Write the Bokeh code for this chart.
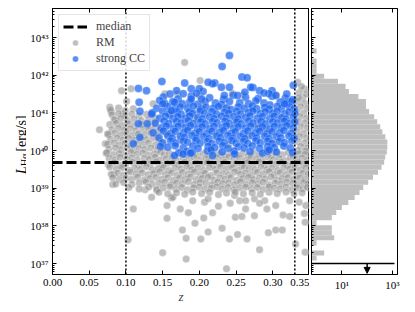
import numpy as np
from bokeh.plotting import figure
from bokeh.layouts import row
from bokeh.models import (Range1d, FixedTicker, CustomJSTickFormatter, NumeralTickFormatter,
                          LinearAxis, LogAxis, Span, Label, Legend, LegendItem, Arrow, NormalHead)
from bokeh.embed import file_html
from bokeh.resources import INLINE

# ---------------- data (z, log10 L_Halpha) ----------------
z_ticks = [0.0, 0.05, 0.10, 0.15, 0.20, 0.25, 0.30, 0.35]
logL_ticks = [37, 38, 39, 40, 41, 42, 43]
count_ticks = [10, 1000]

median_logL = 39.68
z_cuts = [0.10, 0.33]

rm_outliers = [
    (0.082, 39.10), (0.110, 38.45), (0.126, 38.96), (0.135, 38.76), (0.156, 38.54), (0.156, 38.20), (0.162, 38.74),
    (0.103, 37.63), (0.150, 37.29), (0.177, 37.89), (0.182, 37.67), (0.182, 37.12), (0.174, 38.45), (0.185, 38.35),
    (0.194, 38.07), (0.202, 37.65), (0.206, 38.21), (0.212, 37.84), (0.218, 38.35), (0.226, 38.52), (0.231, 37.94),
    (0.241, 37.65), (0.237, 36.86), (0.242, 38.60), (0.249, 38.23), (0.252, 37.77), (0.258, 38.25), (0.265, 37.65),
    (0.263, 38.45), (0.275, 38.27), (0.282, 37.37), (0.292, 38.45), (0.294, 37.82), (0.304, 37.89), (0.313, 37.89),
    (0.314, 38.29), (0.323, 38.25), (0.331, 37.52), (0.343, 38.33), (0.344, 38.10), (0.344, 37.30), (0.304, 38.54),
    (0.083, 39.36), (0.064, 40.55), (0.164, 38.76), (0.191, 38.67), (0.207, 38.63), (0.212, 38.72), (0.248, 38.81),
    (0.255, 38.67), (0.275, 38.72), (0.289, 38.67), (0.323, 38.67), (0.336, 38.63), (0.345, 38.54), (0.142, 38.94),
    (0.263, 38.67), (0.282, 38.60),
    (0.180, 42.34), (0.201, 41.86), (0.094, 41.59), (0.107, 41.64), (0.153, 41.51), (0.078, 41.15), (0.101, 41.31),
    (0.137, 41.24), (0.096, 40.97), (0.080, 41.02), (0.086, 40.81), (0.075, 40.44), (0.072, 40.18), (0.073, 39.93),
    (0.189, 41.02), (0.334, 41.81), (0.343, 41.64), (0.341, 41.41),
]

rm_left = [
    (0.079, 41.08), (0.090, 41.13), (0.099, 41.06), (0.110, 41.11),
    (0.081, 40.95), (0.090, 40.98), (0.099, 40.93), (0.108, 40.97), (0.118, 40.92), (0.128, 40.96),
    (0.084, 40.82), (0.093, 40.85), (0.102, 40.80), (0.111, 40.84), (0.121, 40.79), (0.131, 40.83), (0.140, 40.86),
    (0.078, 40.69), (0.087, 40.72), (0.095, 40.67), (0.104, 40.71), (0.112, 40.66), (0.121, 40.70), (0.130, 40.65), (0.139, 40.71),
    (0.081, 40.56), (0.090, 40.59), (0.098, 40.54), (0.106, 40.58), (0.114, 40.53), (0.123, 40.57), (0.131, 40.55), (0.139, 40.59), (0.146, 40.54),
    (0.076, 40.43), (0.085, 40.46), (0.093, 40.41), (0.101, 40.45), (0.109, 40.40), (0.117, 40.44), (0.126, 40.42), (0.134, 40.46), (0.142, 40.41),
    (0.079, 40.30), (0.088, 40.33), (0.096, 40.28), (0.104, 40.32), (0.112, 40.27), (0.120, 40.31), (0.128, 40.29), (0.137, 40.33), (0.145, 40.28),
    (0.075, 40.17), (0.084, 40.20), (0.091, 40.15), (0.099, 40.19), (0.107, 40.14), (0.115, 40.18), (0.123, 40.16), (0.131, 40.20), (0.140, 40.15), (0.148, 40.19),
    (0.077, 40.04), (0.086, 40.07), (0.094, 40.02), (0.102, 40.06), (0.110, 40.01), (0.118, 40.05), (0.126, 40.03), (0.134, 40.07), (0.143, 40.02), (0.150, 40.06),
]

rm_row_a_z = [0.074, 0.083, 0.091, 0.099, 0.107, 0.115, 0.123, 0.131, 0.139, 0.147, 0.152, 0.159, 0.167, 0.174, 0.182, 0.190, 0.197, 0.205,
              0.213, 0.220, 0.228, 0.236, 0.244, 0.251, 0.259, 0.267, 0.274, 0.282, 0.290, 0.298, 0.305, 0.313, 0.321, 0.328, 0.336, 0.344]
rm_row_a_L = [39.94, 39.89, 39.92, 39.87, 39.95, 39.90, 39.93, 39.88, 39.91, 39.96, 39.89, 39.93, 39.87, 39.94, 39.90, 39.95, 39.88, 39.92,
              39.86, 39.93, 39.91, 39.88, 39.95, 39.89, 39.92, 39.87, 39.94, 39.90, 39.96, 39.88, 39.93, 39.89, 39.95, 39.87, 39.92, 39.90]
rm_row_b_z = [0.077, 0.085, 0.092, 0.101, 0.108, 0.116, 0.125, 0.132, 0.140, 0.147, 0.155, 0.163, 0.170, 0.178, 0.186, 0.193, 0.201, 0.209,
              0.216, 0.224, 0.232, 0.240, 0.247, 0.255, 0.263, 0.270, 0.278, 0.286, 0.294, 0.301, 0.309, 0.317, 0.324, 0.332, 0.340, 0.347]
rm_row_b_L = [39.80, 39.75, 39.82, 39.77, 39.81, 39.74, 39.79, 39.76, 39.83, 39.75, 39.78, 39.81, 39.73, 39.80, 39.77, 39.82, 39.75, 39.79,
              39.74, 39.81, 39.76, 39.83, 39.77, 39.80, 39.74, 39.81, 39.78, 39.75, 39.82, 39.76, 39.79, 39.73, 39.81, 39.77, 39.80, 39.75]
rm_row_c_z = [0.076, 0.084, 0.093, 0.100, 0.109, 0.117, 0.124, 0.133, 0.141, 0.149, 0.157, 0.164, 0.172, 0.180, 0.188, 0.196, 0.204, 0.211,
              0.219, 0.227, 0.235, 0.243, 0.250, 0.258, 0.266, 0.274, 0.281, 0.289, 0.297, 0.305, 0.312, 0.320, 0.327, 0.335, 0.342, 0.348]
rm_row_c_L = [39.63, 39.68, 39.61, 39.66, 39.69, 39.62, 39.67, 39.64, 39.70, 39.61, 39.66, 39.68, 39.63, 39.69, 39.60, 39.67, 39.64, 39.68,
              39.62, 39.65, 39.69, 39.63, 39.66, 39.61, 39.68, 39.64, 39.70, 39.62, 39.67, 39.63, 39.69, 39.61, 39.65, 39.68, 39.64, 39.67]
rm_row_d_z = [0.078, 0.087, 0.095, 0.104, 0.112, 0.120, 0.128, 0.136, 0.144, 0.151, 0.159, 0.167, 0.175, 0.183, 0.190, 0.198, 0.206, 0.214,
              0.222, 0.229, 0.237, 0.245, 0.253, 0.261, 0.268, 0.276, 0.284, 0.292, 0.299, 0.307, 0.315, 0.323, 0.330, 0.338, 0.345]
rm_row_d_L = [39.56, 39.51, 39.55, 39.48, 39.53, 39.50, 39.57, 39.49, 39.52, 39.55, 39.47, 39.54, 39.51, 39.56, 39.49, 39.53, 39.48, 39.55,
              39.50, 39.57, 39.51, 39.54, 39.48, 39.55, 39.52, 39.49, 39.56, 39.50, 39.53, 39.47, 39.55, 39.51, 39.54, 39.49, 39.54]
rm_row_e_z = [0.080, 0.089, 0.097, 0.106, 0.114, 0.122, 0.130, 0.138, 0.146, 0.154, 0.162, 0.170, 0.177, 0.185, 0.193, 0.201, 0.208, 0.216,
              0.224, 0.232, 0.240, 0.248, 0.256, 0.263, 0.271, 0.279, 0.287, 0.295, 0.302, 0.310, 0.318, 0.326, 0.333, 0.341, 0.348]
rm_row_e_L = [39.37, 39.40, 39.35, 39.43, 39.38, 39.41, 39.36, 39.39, 39.44, 39.37, 39.41, 39.35, 39.42, 39.38, 39.43, 39.36, 39.40, 39.34,
              39.41, 39.39, 39.36, 39.43, 39.37, 39.40, 39.35, 39.42, 39.38, 39.44, 39.36, 39.41, 39.37, 39.43, 39.35, 39.40, 39.38]
rm_row_f_z = [0.082, 0.091, 0.100, 0.108, 0.116, 0.125, 0.133, 0.141, 0.149, 0.157, 0.165, 0.173, 0.181, 0.188, 0.196, 0.204, 0.212, 0.220,
              0.228, 0.235, 0.243, 0.251, 0.259, 0.267, 0.274, 0.282, 0.290, 0.298, 0.306, 0.313, 0.321, 0.329, 0.337, 0.344]
rm_row_f_L = [39.28, 39.23, 39.27, 39.24, 39.30, 39.22, 39.26, 39.29, 39.24, 39.28, 39.21, 39.27, 39.25, 39.30, 39.23, 39.26, 39.29, 39.22,
              39.27, 39.24, 39.28, 39.21, 39.26, 39.29, 39.23, 39.27, 39.25, 39.30, 39.22, 39.26, 39.28, 39.24, 39.27, 39.23]
rm_row_g_z = [0.086, 0.097, 0.108, 0.118, 0.127, 0.136, 0.145, 0.153, 0.161, 0.169, 0.177, 0.185, 0.193, 0.201, 0.209, 0.217, 0.225,
              0.232, 0.240, 0.248, 0.256, 0.264, 0.272, 0.280, 0.287, 0.295, 0.303, 0.311, 0.319, 0.327, 0.334, 0.342, 0.348]
rm_row_g_L = [39.11, 39.15, 39.10, 39.14, 39.17, 39.11, 39.13, 39.16, 39.09, 39.14, 39.12, 39.17, 39.10, 39.15, 39.13, 39.09, 39.16,
              39.12, 39.14, 39.10, 39.17, 39.11, 39.15, 39.12, 39.16, 39.09, 39.14, 39.11, 39.16, 39.13, 39.10, 39.15, 39.12]
rm_row_h_z = [0.104, 0.118, 0.131, 0.142, 0.151, 0.160, 0.168, 0.176, 0.184, 0.192, 0.200, 0.208, 0.216, 0.224, 0.231,
              0.239, 0.247, 0.255, 0.263, 0.271, 0.279, 0.287, 0.295, 0.302, 0.310, 0.318, 0.326, 0.334, 0.341, 0.347]
rm_row_h_L = [39.02, 38.98, 39.03, 38.97, 39.01, 39.04, 38.98, 39.02, 38.96, 39.01, 39.03, 38.97, 39.00, 39.04, 38.98,
              39.02, 38.96, 39.01, 39.03, 38.99, 39.02, 38.97, 39.04, 39.00, 38.98, 39.03, 38.96, 39.01, 38.99, 39.02]
rm_row_i_z = [0.145, 0.157, 0.169, 0.180, 0.191, 0.203, 0.214, 0.226, 0.237, 0.249, 0.260, 0.272, 0.283, 0.295, 0.306, 0.318, 0.329, 0.340]
rm_row_i_L = [38.89, 38.85, 38.88, 38.84, 38.90, 38.86, 38.89, 38.83, 38.87, 38.90, 38.85, 38.88, 38.84, 38.89, 38.86, 38.90, 38.85, 38.88]

rm_right = [
    (0.336, 41.54), (0.346, 41.50), (0.334, 41.30), (0.343, 41.26), (0.338, 41.16), (0.347, 41.12), (0.333, 41.03),
    (0.342, 40.99), (0.337, 40.90), (0.346, 40.86), (0.334, 40.77), (0.343, 40.73), (0.338, 40.63), (0.347, 40.60),
    (0.333, 40.50), (0.342, 40.46), (0.337, 40.37), (0.346, 40.33), (0.334, 40.24), (0.343, 40.20), (0.338, 40.11),
    (0.347, 40.07), (0.334, 40.00), (0.344, 39.99), (0.339, 41.70), (0.335, 41.40),
]

rm_under = [
    (0.160, 40.95), (0.185, 40.60), (0.205, 41.20), (0.225, 40.40), (0.250, 40.80), (0.270, 41.05), (0.290, 40.55),
    (0.310, 40.85), (0.175, 40.30), (0.240, 40.15), (0.300, 40.20), (0.320, 41.30), (0.200, 41.45), (0.260, 41.48),
    (0.215, 40.05), (0.280, 40.70), (0.155, 40.45), (0.195, 40.85), (0.235, 41.10), (0.265, 40.35), (0.245, 41.52),
    (0.305, 41.47), (0.170, 41.50),
]

cc_core = [
    (0.151, 41.42), (0.171, 41.37), (0.189, 41.45), (0.214, 41.40), (0.233, 41.36), (0.246, 41.47), (0.263, 41.41),
    (0.280, 41.38), (0.299, 41.44), (0.317, 41.39), (0.327, 41.35),
    (0.153, 41.25), (0.164, 41.30), (0.177, 41.24), (0.187, 41.29), (0.198, 41.23), (0.208, 41.31), (0.222, 41.26),
    (0.230, 41.22), (0.241, 41.30), (0.255, 41.27), (0.267, 41.24), (0.277, 41.32), (0.288, 41.26), (0.296, 41.21),
    (0.310, 41.29), (0.319, 41.25), (0.326, 41.31),
    (0.142, 41.12), (0.157, 41.17), (0.167, 41.11), (0.174, 41.16), (0.184, 41.13), (0.192, 41.18), (0.202, 41.10),
    (0.209, 41.15), (0.219, 41.12), (0.226, 41.17), (0.237, 41.13), (0.243, 41.09), (0.253, 41.16), (0.261, 41.12),
    (0.272, 41.18), (0.278, 41.11), (0.289, 41.15), (0.295, 41.10), (0.306, 41.17), (0.312, 41.13), (0.323, 41.16),
    (0.329, 41.11),
    (0.136, 41.00), (0.150, 41.04), (0.159, 40.98), (0.169, 41.03), (0.175, 40.97), (0.186, 41.02), (0.191, 40.99),
    (0.201, 41.05), (0.207, 40.98), (0.217, 41.03), (0.223, 40.97), (0.234, 41.02), (0.240, 40.99), (0.251, 41.04),
    (0.256, 40.97), (0.267, 41.01), (0.273, 41.05), (0.283, 40.98), (0.290, 41.03), (0.300, 40.99), (0.306, 41.04),
    (0.316, 40.97), (0.322, 41.02), (0.330, 40.99),
    (0.146, 40.86), (0.154, 40.91), (0.164, 40.85), (0.171, 40.90), (0.181, 40.86), (0.187, 40.92), (0.198, 40.87),
    (0.204, 40.84), (0.214, 40.89), (0.220, 40.85), (0.230, 40.91), (0.237, 40.86), (0.247, 40.90), (0.253, 40.84),
    (0.263, 40.88), (0.269, 40.92), (0.279, 40.86), (0.286, 40.90), (0.296, 40.85), (0.302, 40.91), (0.312, 40.87),
    (0.318, 40.84), (0.328, 40.89),
    (0.140, 40.73), (0.152, 40.78), (0.158, 40.72), (0.169, 40.77), (0.175, 40.73), (0.185, 40.79), (0.192, 40.72),
    (0.202, 40.76), (0.208, 40.71), (0.218, 40.77), (0.224, 40.74), (0.235, 40.78), (0.241, 40.72), (0.251, 40.76),
    (0.257, 40.71), (0.267, 40.78), (0.273, 40.73), (0.284, 40.77), (0.290, 40.71), (0.300, 40.76), (0.306, 40.73),
    (0.316, 40.78), (0.323, 40.72), (0.330, 40.76),
    (0.148, 40.60), (0.155, 40.65), (0.165, 40.59), (0.171, 40.64), (0.181, 40.61), (0.188, 40.66), (0.198, 40.59),
    (0.204, 40.63), (0.214, 40.58), (0.220, 40.64), (0.231, 40.61), (0.237, 40.66), (0.247, 40.59), (0.253, 40.63),
    (0.263, 40.60), (0.270, 40.65), (0.280, 40.59), (0.286, 40.63), (0.296, 40.58), (0.302, 40.64), (0.312, 40.61),
    (0.319, 40.66), (0.328, 40.60),
    (0.137, 40.47), (0.151, 40.52), (0.161, 40.46), (0.167, 40.51), (0.178, 40.47), (0.184, 40.53), (0.194, 40.46),
    (0.200, 40.50), (0.210, 40.45), (0.217, 40.51), (0.227, 40.48), (0.233, 40.53), (0.243, 40.46), (0.249, 40.50),
    (0.260, 40.45), (0.266, 40.52), (0.276, 40.47), (0.282, 40.51), (0.292, 40.45), (0.299, 40.50), (0.309, 40.47),
    (0.315, 40.53), (0.325, 40.46),
    (0.145, 40.34), (0.157, 40.39), (0.163, 40.33), (0.174, 40.38), (0.180, 40.35), (0.190, 40.40), (0.196, 40.33),
    (0.206, 40.37), (0.213, 40.32), (0.223, 40.38), (0.229, 40.35), (0.239, 40.40), (0.246, 40.33), (0.256, 40.37),
    (0.262, 40.32), (0.272, 40.39), (0.278, 40.34), (0.289, 40.38), (0.295, 40.32), (0.305, 40.37), (0.311, 40.34),
    (0.322, 40.39), (0.329, 40.33),
    (0.150, 40.21), (0.161, 40.26), (0.168, 40.20), (0.178, 40.25), (0.184, 40.22), (0.195, 40.27), (0.201, 40.20),
    (0.211, 40.24), (0.217, 40.19), (0.227, 40.25), (0.234, 40.22), (0.244, 40.27), (0.250, 40.20), (0.260, 40.24),
    (0.266, 40.19), (0.277, 40.26), (0.283, 40.21), (0.293, 40.25), (0.299, 40.19), (0.309, 40.24), (0.316, 40.21),
    (0.326, 40.26),
    (0.157, 40.09), (0.167, 40.13), (0.178, 40.07), (0.191, 40.12), (0.198, 40.06), (0.212, 40.11), (0.221, 40.08),
    (0.232, 40.13), (0.239, 40.06), (0.253, 40.10), (0.261, 40.07), (0.272, 40.12), (0.282, 40.06), (0.293, 40.11),
    (0.302, 40.08), (0.315, 40.12), (0.324, 40.07),
    (0.172, 39.94), (0.183, 39.98), (0.190, 39.95), (0.211, 39.99), (0.231, 39.96), (0.247, 39.99), (0.269, 39.97),
    (0.286, 39.93), (0.293, 39.98), (0.305, 39.96),
]

cc_sparse = [
    (0.149, 41.83), (0.180, 41.79), (0.117, 41.65), (0.128, 41.59), (0.169, 41.59), (0.189, 41.64), (0.205, 41.57),
    (0.118, 41.28), (0.241, 42.52), (0.231, 42.23), (0.221, 41.79), (0.258, 41.95), (0.265, 41.93), (0.273, 41.67),
    (0.282, 41.59), (0.299, 41.59), (0.328, 41.73), (0.119, 41.04), (0.135, 40.97), (0.117, 40.71), (0.129, 40.71),
    (0.110, 40.18), (0.119, 40.35), (0.147, 40.11), (0.166, 39.87), (0.178, 39.91), (0.188, 39.93), (0.216, 40.02),
    (0.248, 39.91), (0.295, 40.02), (0.218, 39.87), (0.327, 39.95), (0.218, 41.77), (0.230, 41.68), (0.241, 41.68),
    (0.270, 41.68), (0.295, 41.51), (0.200, 41.64), (0.212, 41.81), (0.178, 41.51), (0.166, 41.28), (0.146, 41.33),
    (0.162, 41.06), (0.150, 41.24), (0.234, 41.46), (0.252, 41.46), (0.304, 41.46), (0.316, 41.24), (0.189, 41.37),
    (0.203, 41.37), (0.160, 41.50), (0.196, 41.52), (0.262, 41.55), (0.288, 41.53), (0.319, 41.50),
]

# histogram of log L (bins from bottom to top)
hist_logL_start = 37.08
hist_bin_width = 0.134
hist_counts = [1, 2, 0, 1, 5, 4, 4, 1, 4, 6, 10, 18, 32, 50, 70, 110, 170, 270, 370, 470, 520, 600, 630, 630,
               525, 400, 330, 250, 190, 120, 90, 90, 45, 19, 14, 7, 2, 1, 1, 1, 0, 1]

limit_logL = 37.0
limit_count_max = 1200
limit_arrow_count = 100

# y-axis title pieces
ylabel_parts = ["L", "H\u03b1", "[erg/s]"]

# ---------------- assemble ----------------
rm_pts = list(rm_outliers) + list(rm_left) + list(rm_right) + list(rm_under)
for zs, ls in [(rm_row_a_z, rm_row_a_L), (rm_row_b_z, rm_row_b_L), (rm_row_c_z, rm_row_c_L), (rm_row_d_z, rm_row_d_L),
               (rm_row_e_z, rm_row_e_L), (rm_row_f_z, rm_row_f_L), (rm_row_g_z, rm_row_g_L), (rm_row_h_z, rm_row_h_L),
               (rm_row_i_z, rm_row_i_L)]:
    rm_pts += list(zip(zs, ls))
cc_pts = list(cc_core) + list(cc_sparse)

rm_z = [a for a, b in rm_pts]
rm_L = [10.0 ** b for a, b in rm_pts]
cc_z = [a for a, b in cc_pts]
cc_L = [10.0 ** b for a, b in cc_pts]

SERIF = "Liberation Serif"
SUP_JS = """
const s = {"0":"\u2070","1":"\u00b9","2":"\u00b2","3":"\u00b3","4":"\u2074","5":"\u2075","6":"\u2076","7":"\u2077","8":"\u2078","9":"\u2079","-":"\u207b"};
const e = Math.round(Math.log10(tick));
return "10" + String(e).split("").map(c => s[c]).join("");
"""
BLANK_JS = 'return "";'

LOG_MIN, LOG_MAX = 36.71, 43.77
y_rng = Range1d(10 ** LOG_MIN, 10 ** LOG_MAX)

major_y = [10.0 ** e for e in logL_ticks]
minor_y = [m * 10.0 ** e for e in range(36, 44) for m in range(2, 10) if LOG_MIN < np.log10(m * 10.0 ** e) < LOG_MAX]

TOP, BOTTOM, FH = 8, 36, 266


def style_axis(ax, labels=True, size="11px"):
    ax.axis_line_color = "black"
    ax.axis_line_width = 1
    ax.major_tick_in = 4
    ax.major_tick_out = 0
    ax.minor_tick_in = 2
    ax.minor_tick_out = 0
    ax.major_tick_line_color = "black"
    ax.minor_tick_line_color = "black"
    ax.major_label_text_font = SERIF
    ax.major_label_text_color = "black"
    if labels:
        ax.major_label_text_font_size = size
        ax.major_label_standoff = 4
    else:
        ax.formatter = CustomJSTickFormatter(code=BLANK_JS)
        ax.major_label_text_font_size = "1px"
        ax.major_label_standoff = 0


# ---------------- y-axis title strip ----------------
p0 = figure(frame_width=26, frame_height=FH, x_range=Range1d(0, 26), y_range=y_rng, y_axis_type="log",
            x_axis_location=None, y_axis_location=None, output_backend="svg", toolbar_location=None,
            min_border_left=0, min_border_right=0, min_border_top=TOP, min_border_bottom=BOTTOM)
p0.grid.visible = False
p0.outline_line_color = None
p0.add_layout(Label(x=21.0, y=10 ** 39.38, text=ylabel_parts[0], angle=np.pi / 2, text_font=SERIF,
                    text_font_style="italic", text_font_size="14px", text_align="left",
                    text_baseline="alphabetic", text_color="black"))
p0.add_layout(Label(x=23.5, y=10 ** 39.589, text=ylabel_parts[1], angle=np.pi / 2, text_font=SERIF,
                    text_font_size="10px", text_align="left", text_baseline="alphabetic", text_color="black"))
p0.add_layout(Label(x=21.0, y=10 ** 39.973, text=ylabel_parts[2], angle=np.pi / 2, text_font=SERIF,
                    text_font_size="14px", text_align="left", text_baseline="alphabetic", text_color="black"))

# ---------------- main scatter panel ----------------
p = figure(frame_width=257, frame_height=FH, x_range=Range1d(0, 0.35), y_range=y_rng, y_axis_type="log",
           output_backend="svg", toolbar_location=None, min_border_left=23, min_border_right=0,
           min_border_top=TOP, min_border_bottom=BOTTOM)
p.grid.visible = False
p.outline_line_color = "black"
p.background_fill_color = "white"
p.border_fill_color = "white"

p.xaxis.ticker = FixedTicker(ticks=z_ticks, minor_ticks=[])
p.xaxis.formatter = NumeralTickFormatter(format="0.00")
style_axis(p.xaxis[0], True, "11px")
p.xaxis.axis_label = "z"
p.xaxis.axis_label_text_font = SERIF
p.xaxis.axis_label_text_font_style = "italic"
p.xaxis.axis_label_text_font_size = "13px"
p.xaxis.axis_label_standoff = 0

p.yaxis.ticker = FixedTicker(ticks=major_y, minor_ticks=minor_y)
p.yaxis.formatter = CustomJSTickFormatter(code=SUP_JS)
style_axis(p.yaxis[0], True, "11px")

top_ax = LinearAxis(ticker=FixedTicker(ticks=z_ticks, minor_ticks=[]))
style_axis(top_ax, False)
p.add_layout(top_ax, "above")

rm_r = p.scatter(rm_z, rm_L, size=7.5, fill_color="#8c8c8c", fill_alpha=0.56,
                 line_color="white", line_alpha=0.6, line_width=0.6)
cc_r = p.scatter(cc_z, cc_L, size=8, fill_color="#1964f0", fill_alpha=0.72,
                 line_color="white", line_alpha=0.4, line_width=0.6)

med_r = p.line([z_ticks[0], z_ticks[-1]], [10 ** median_logL, 10 ** median_logL],
               line_color="black", line_width=3, line_dash="10 4")
for zc in z_cuts:
    p.add_layout(Span(location=zc, dimension="height", line_color="black", line_width=1.5, line_dash="2 2"))

legend = Legend(items=[LegendItem(label="median", renderers=[med_r]),
                       LegendItem(label="RM", renderers=[rm_r]),
                       LegendItem(label="strong CC", renderers=[cc_r])],
                location="top_left")
legend.label_text_font = SERIF
legend.label_text_font_size = "12px"
legend.glyph_width = 24
legend.glyph_height = 15
legend.label_height = 15
legend.label_standoff = 9
legend.padding = 4
legend.spacing = 1
legend.margin = 6
legend.border_line_color = "#cccccc"
legend.background_fill_alpha = 0.85
p.add_layout(legend)

# ---------------- right histogram panel ----------------
p2 = figure(frame_width=86, frame_height=FH, x_range=Range1d(10 ** -0.2, 10 ** 3.2), y_range=y_rng,
            x_axis_type="log", y_axis_type="log", output_backend="svg", toolbar_location=None,
            min_border_left=2, min_border_right=8, min_border_top=TOP, min_border_bottom=BOTTOM)
p2.grid.visible = False
p2.outline_line_color = "black"
p2.background_fill_color = "white"
p2.border_fill_color = "white"

p2.xaxis.ticker = FixedTicker(ticks=count_ticks, minor_ticks=[])
p2.xaxis.formatter = CustomJSTickFormatter(code=SUP_JS)
style_axis(p2.xaxis[0], True, "11px")
p2.yaxis.ticker = FixedTicker(ticks=major_y, minor_ticks=minor_y)
style_axis(p2.yaxis[0], False)
top2 = LogAxis(ticker=FixedTicker(ticks=count_ticks, minor_ticks=[]))
style_axis(top2, False)
p2.add_layout(top2, "above")

h_lo, h_hi, h_c = [], [], []
for k, c in enumerate(hist_counts):
    if c > 0:
        h_lo.append(10 ** (hist_logL_start + k * hist_bin_width))
        h_hi.append(10 ** (hist_logL_start + (k + 1) * hist_bin_width))
        h_c.append(c)
p2.quad(left=0.1, right=h_c, bottom=h_lo, top=h_hi, fill_color="#bfbfbf", line_color=None)

p2.segment(x0=[0.1], x1=[limit_count_max], y0=[10 ** limit_logL], y1=[10 ** limit_logL],
           line_color="black", line_width=1.5)
p2.add_layout(Arrow(end=NormalHead(size=6, fill_color="black", line_color="black"),
                    x_start=limit_arrow_count, x_end=limit_arrow_count,
                    y_start=10 ** limit_logL, y_end=10 ** (LOG_MIN + 0.03),
                    line_color="black", line_width=1.5))

layout = row(p0, p, p2)
open("out.html", "w").write(file_html(layout, INLINE))
